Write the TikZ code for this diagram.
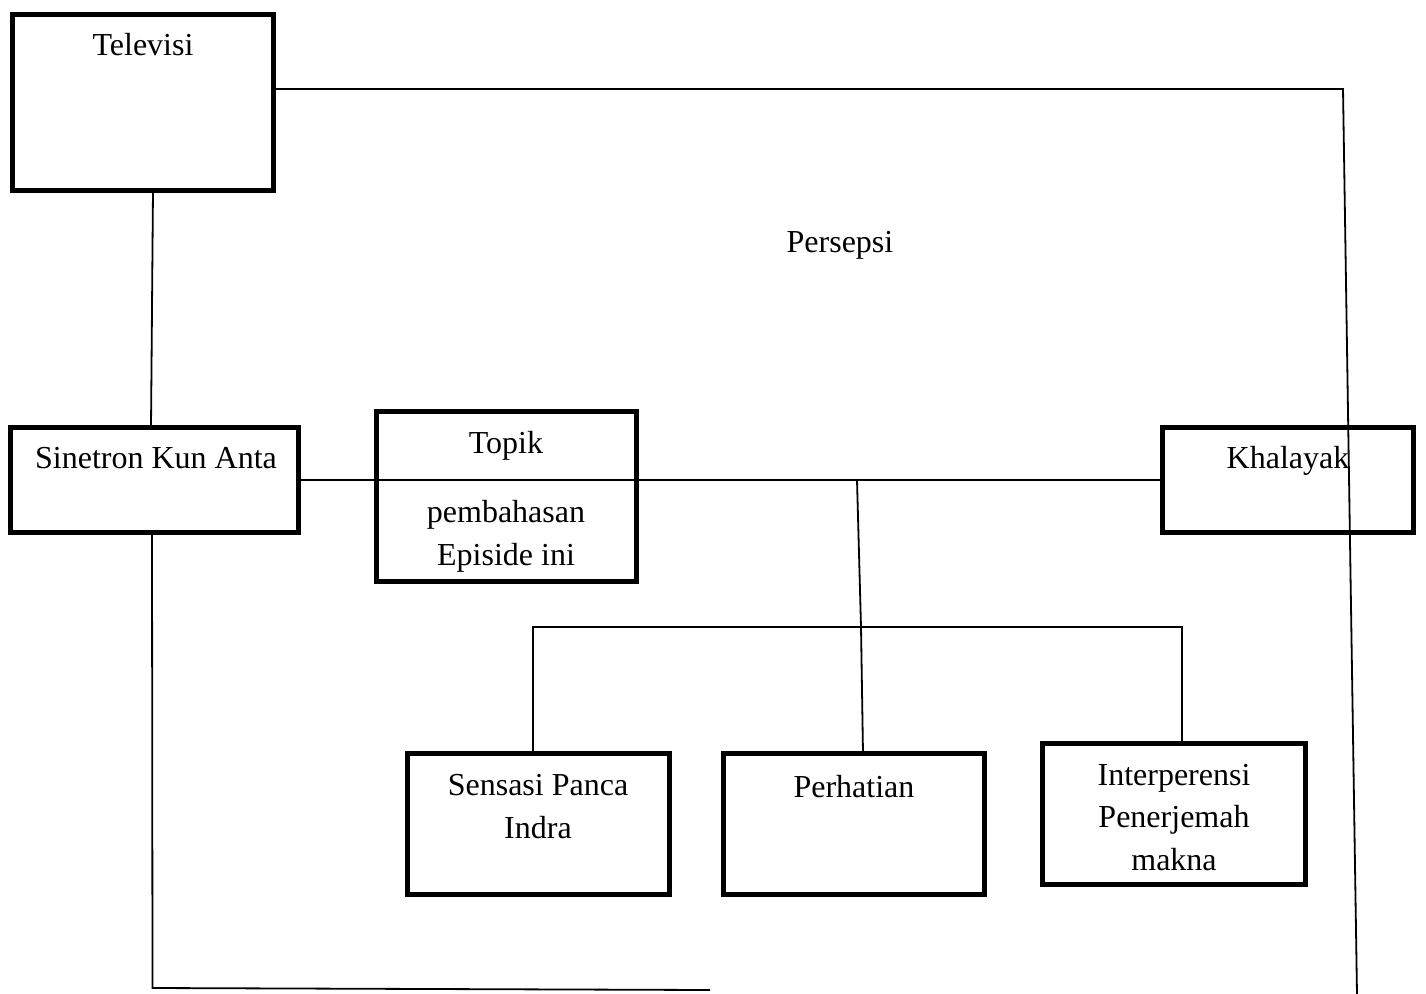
\documentclass[tikz,border=0pt]{standalone}
\usepackage{fontspec}
\setmainfont{Liberation Serif}
\begin{document}
\begin{tikzpicture}[x=1pt,y=-1pt,
  box/.style={draw=black,line width=5pt,rectangle,inner sep=0pt,outer sep=0pt,fill=white},
  conn/.style={draw=black,line width=1.8pt},
  lbl/.style={inner sep=0pt,anchor=base,align=center,font=\fontsize{32}{42.5}\selectfont}]
\useasboundingbox[fill=white] (0,0) rectangle (1426,993);
% boxes
\node[box,minimum width=261pt,minimum height=176pt] (tv)  at (142.5,102) {};
\node[box,minimum width=288pt,minimum height=105pt] (sin) at (154.5,480) {};
\node[box,minimum width=260pt,minimum height=170pt] (top) at (506.5,496.5) {};
\node[box,minimum width=251pt,minimum height=105pt] (kha) at (1288,480) {};
\node[box,minimum width=262pt,minimum height=141pt] (sen) at (538.5,824) {};
\node[box,minimum width=261pt,minimum height=141pt] (per) at (854,824) {};
\node[box,minimum width=263pt,minimum height=141pt] (int) at (1174,814) {};
% labels (base anchor = baseline of the last line)
\node[lbl] (tvl)  at (143,55)   {Televisi};
\node[lbl] (sinl) at (156,468)  {Sinetron Kun Anta};
\node[lbl] (topl) at (506,453)  {Topik};
\node[lbl] (topm) at (506,565)  {pembahasan\\Episide ini};
\node[lbl] (khal) at (1288,468) {Khalayak};
\node[lbl] (senl) at (538,838)  {Sensasi Panca\\Indra};
\node[lbl] (perl) at (854,797)  {Perhatian};
\node[lbl] (intl) at (1174,870) {Interperensi\\Penerjemah\\makna};
\node[lbl] (persepsi) at (840,252) {Persepsi};
% connectors
\coordinate (c1) at (1343,89);
\coordinate (c2) at (1357,995);
\draw[conn] (tv.east |- c1) -- (c1) -- (c2);
\draw[conn] ([xshift=10.5pt]tv.south) -- ([xshift=-3.5pt]sin.north);
\coordinate (c3) at (152.5,988);
\coordinate (c4) at (710,990);
\draw[conn] ([xshift=-2.5pt]sin.south) -- (c3) -- (c4);
\draw[conn] (sin.east) -- (kha.west);
\coordinate (j1) at (857,480);
\coordinate (j2) at (861,627);
\draw[conn] (j1) -- (j2) -- ([xshift=9pt]per.north);
\coordinate (bL) at (533,627);
\coordinate (bR) at (1182,627);
\draw[conn] ([xshift=-5.5pt]sen.north) -- (bL) -- (bR) -- ([xshift=8pt]int.north);
\end{tikzpicture}
\end{document}
